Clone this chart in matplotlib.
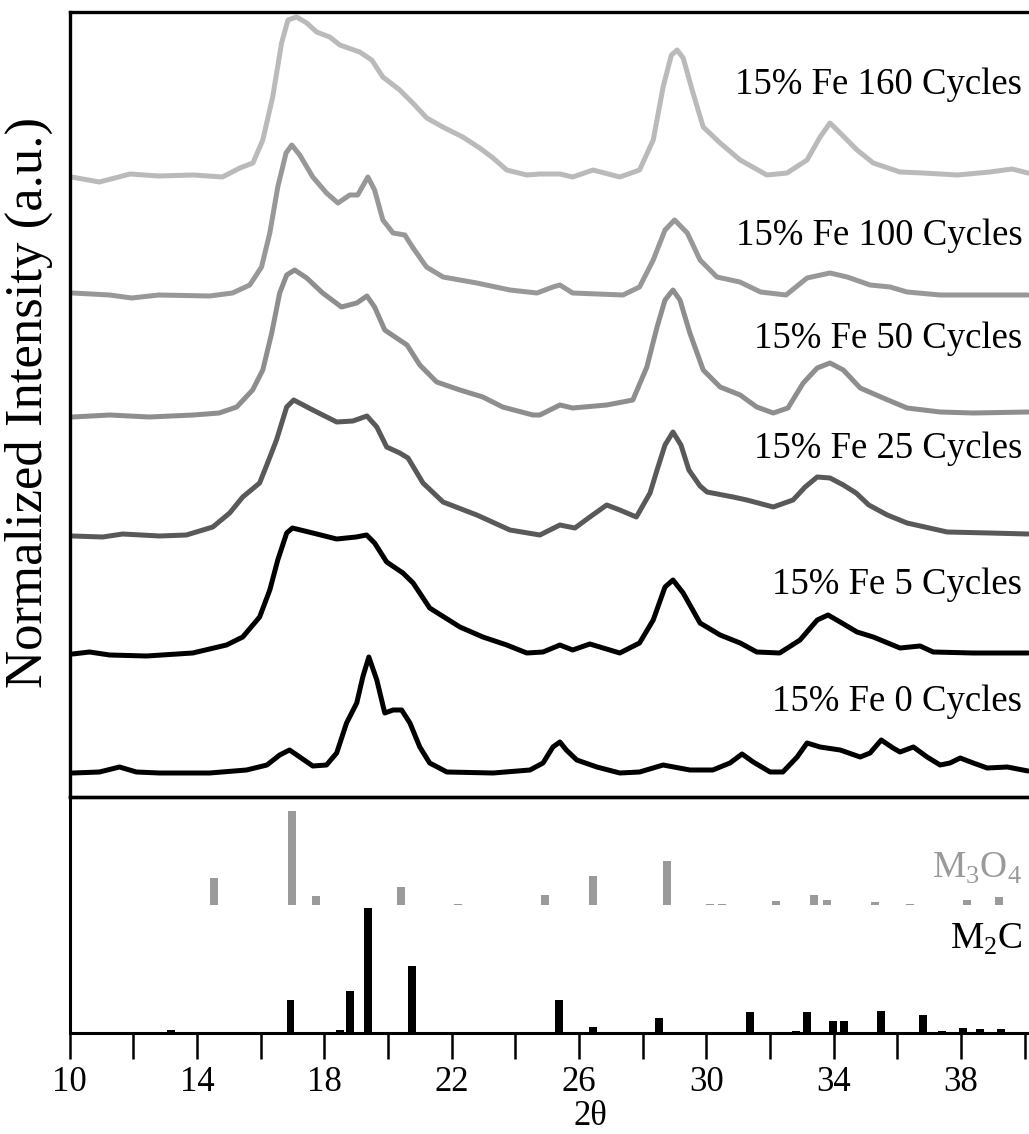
import matplotlib
matplotlib.use("Agg")
import matplotlib.pyplot as plt

plt.rcParams['font.family'] = ['Liberation Serif', 'DejaVu Serif']
plt.rcParams['mathtext.fontset'] = 'custom'
plt.rcParams['mathtext.rm'] = 'Liberation Serif'

# XRD patterns, 2-theta vs intensity above each trace's own baseline
x_160 = [10.06, 10.94, 11.9, 12.8, 13.9, 14.8, 15.35, 15.76, 16.07, 16.38, 16.66, 16.86, 17.13, 17.45,
         17.76, 18.17, 18.49, 19.11, 19.49, 19.84, 20.37, 20.78, 21.22, 21.72, 22.35, 22.88, 23.3,
         23.73, 24.36, 24.77, 25.4, 25.8, 26.44, 27.28, 27.9, 28.33, 28.64, 28.9, 29.08, 29.27, 29.58,
         29.9, 30.43, 31.06, 31.9, 32.53, 33.16, 33.57, 33.88, 34.2, 34.73, 35.24, 36.08, 36.8, 37.88,
         38.9, 39.6, 40.1]
i_160 = [0, -5, 3, 1, 2, 0, 9, 14, 37, 80, 134, 157, 160, 154,
         145, 140, 132, 125, 117, 100, 87, 74, 59, 50, 40, 29, 19,
         7, 2, 3, 3, 0, 7, 0, 7, 37, 90, 122, 127, 119, 84,
         50, 34, 17, 2, 4, 17, 40, 54, 44, 27, 14, 5, 4, 2,
         5, 8, 4]

x_100 = [10.1, 11.26, 11.95, 12.8, 14.4, 15.12, 15.66, 16.03, 16.29, 16.54, 16.8, 16.98, 17.23, 17.64,
         18.07, 18.43, 18.8, 19.05, 19.37, 19.58, 19.84, 20.16, 20.53, 20.79, 21.21, 21.73, 22.79,
         23.83, 24.68, 25.18, 25.4, 25.8, 27.38, 27.9, 28.33, 28.7, 29.0, 29.4, 29.8, 30.33, 31.05,
         31.7, 32.5, 33.16, 33.88, 34.42, 35.14, 35.77, 36.3, 37.34, 40.1]
i_100 = [2, 0, -3, 0, -1, 2, 10, 28, 62, 108, 142, 150, 140, 118,
         102, 92, 100, 100, 118, 105, 75, 62, 60, 47, 28, 18, 12,
         5, 2, 8, 10, 2, 0, 8, 35, 65, 75, 62, 35, 18, 13,
         3, 0, 17, 22, 18, 10, 8, 3, 0, 0]

x_50 = [10.1, 11.26, 12.5, 13.9, 14.7, 15.25, 15.75, 16.07, 16.35, 16.6, 16.82, 17.07, 17.45, 17.95,
        18.54, 19.02, 19.34, 19.58, 19.9, 20.27, 20.6, 21.0, 21.53, 22.26, 22.98, 23.6, 24.55, 24.77,
        25.4, 25.8, 26.87, 27.69, 28.13, 28.45, 28.7, 28.95, 29.17, 29.48, 29.9, 30.43, 31.06, 31.58,
        32.1, 32.56, 33.04, 33.48, 33.88, 34.3, 34.83, 35.55, 36.3, 37.34, 38.38, 40.1]
i_50 = [-2, 0, -2, 0, 2, 8, 25, 45, 82, 122, 140, 145, 137, 122,
        108, 112, 119, 108, 85, 77, 70, 50, 33, 25, 18, 8, 0, 0,
        10, 7, 10, 15, 48, 88, 115, 125, 115, 82, 45, 28, 20, 8,
        2, 7, 32, 47, 52, 45, 27, 17, 7, 3, 2, 3]

x_25 = [10.1, 11.04, 11.67, 12.83, 13.67, 14.5, 15.03, 15.44, 15.97, 16.22, 16.5, 16.82, 17.04, 17.64,
        18.39, 18.9, 19.34, 19.65, 19.96, 20.37, 20.63, 21.1, 21.73, 22.79, 23.83, 24.77, 25.4, 25.87,
        26.34, 26.87, 27.28, 27.8, 28.23, 28.45, 28.7, 28.95, 29.2, 29.45, 29.8, 30.02, 30.84, 31.27,
        32.1, 32.72, 33.1, 33.48, 33.88, 34.3, 34.7, 35.1, 35.68, 36.3, 37.56, 38.9, 40.1]
i_25 = [0, -1, 2, 0, 1, 9, 23, 39, 53, 73, 96, 129, 136, 126,
        114, 115, 120, 109, 89, 83, 78, 53, 34, 21, 6, 1, 11, 8,
        19, 31, 26, 19, 43, 66, 91, 104, 91, 66, 50, 44, 39, 36,
        29, 36, 49, 59, 58, 51, 43, 31, 21, 13, 4, 3, 2]

x_5 = [10.1, 10.63, 11.26, 12.42, 13.87, 14.93, 15.44, 15.97, 16.29, 16.54, 16.82, 17.0, 17.64, 18.39,
       19.0, 19.33, 19.58, 19.96, 20.47, 20.79, 21.31, 22.26, 22.98, 23.73, 24.36, 24.87, 25.4, 25.8,
       26.34, 27.28, 27.9, 28.33, 28.7, 28.95, 29.27, 29.8, 30.43, 31.06, 31.58, 32.3, 32.94, 33.48,
       33.82, 34.2, 34.73, 35.24, 36.08, 36.71, 37.12, 38.38, 40.1]
i_5 = [0, 2, -1, -2, 1, 9, 17, 37, 64, 94, 121, 126, 121, 115,
       117, 119, 111, 92, 81, 71, 46, 27, 17, 9, 1, 2, 9, 4,
       10, 1, 11, 34, 67, 74, 61, 31, 19, 11, 2, 1, 14, 34,
       39, 32, 22, 17, 6, 8, 2, 1, 1]

x_0 = [10.1, 10.94, 11.57, 12.1, 12.83, 14.4, 15.56, 16.2, 16.6, 16.91, 17.23, 17.64, 18.07, 18.39,
       18.7, 19.02, 19.21, 19.4, 19.65, 19.9, 20.16, 20.43, 20.69, 21.0, 21.31, 21.85, 23.3, 24.46,
       24.87, 25.18, 25.4, 25.6, 25.93, 26.56, 27.28, 27.9, 28.64, 29.48, 30.2, 30.74, 31.12, 31.47,
       32.0, 32.4, 32.85, 33.16, 33.57, 34.2, 34.83, 35.14, 35.49, 35.86, 36.08, 36.5, 36.93, 37.34,
       37.65, 37.97, 38.38, 38.82, 39.45, 40.1]
i_0 = [0, 1, 6, 1, 0, 0, 3, 8, 18, 23, 16, 7, 8, 20,
       50, 70, 96, 116, 93, 60, 63, 63, 50, 26, 10, 1, 0, 3,
       10, 26, 31, 23, 13, 6, 0, 1, 8, 3, 3, 10, 19, 11,
       1, 1, 16, 30, 26, 23, 16, 20, 33, 25, 21, 26, 16, 8,
       10, 15, 10, 5, 6, 2]

labels = ['15% Fe 160 Cycles', '15% Fe 100 Cycles', '15% Fe 50 Cycles',
          '15% Fe 25 Cycles', '15% Fe 5 Cycles', '15% Fe 0 Cycles']
offsets = [620, 502, 382, 261, 143, 24]
label_y = [703, 552, 449, 339, 203, 86]
colors = ['#bababa', '#989898', '#8e8e8e', '#595959', '#000000', '#000000']

# reference patterns (stick positions / relative intensities)
m3o4_pos = [14.53, 16.98, 17.73, 20.4, 22.2, 24.93, 26.44, 28.77, 30.1, 30.5, 32.2, 33.38, 33.79,
            35.3, 36.4, 38.19, 39.2]
m3o4_int = [27, 94, 9, 18, 1, 10, 29, 44, 1, 1, 4, 10, 5, 3, 1, 5, 8]
m2c_pos = [13.18, 16.94, 18.49, 18.8, 19.37, 20.75, 25.37, 26.45, 28.5, 29.4, 29.8, 30.05, 31.37,
           31.75, 32.8, 33.16, 33.7, 33.98, 34.33, 35.49, 36.8, 37.4, 38.06, 38.6, 39.26, 40.07]
m2c_int = [3, 33, 3, 42, 125, 67, 33, 6, 15, 1, 1, 1, 21, 1, 2, 21, 1, 12, 12, 22, 18, 2, 5, 4, 4, 1]

xs = [x_160, x_100, x_50, x_25, x_5, x_0]
ys = [i_160, i_100, i_50, i_25, i_5, i_0]

W, H = 1029, 1134
fig = plt.figure(figsize=(W / 100, H / 100), dpi=100)
left = 69.5 / W
width = 1 - left
ax = fig.add_axes([left, (H - 797) / H, width, 785 / H])
ax2 = fig.add_axes([left, (H - 1033) / H, width, 236 / H], sharex=ax)
ax2.patch.set_visible(False)

for x, y, off, c in zip(xs, ys, offsets, colors):
    ax.plot(x, [v + off for v in y], color=c, lw=3.6, solid_joinstyle='round', solid_capstyle='round')
for lab, ly in zip(labels, label_y):
    ax.text(39.92, ly, lab, ha='right', va='baseline', fontsize=26.5)

ax.set_xlim(10, 40.13)
ax.set_ylim(0, 785)
ax.set_yticks([])
ax.tick_params(axis='x', which='both', bottom=False, labelbottom=False)
ax.spines['right'].set_visible(False)
for s in ['top', 'left', 'bottom']:
    ax.spines[s].set_linewidth(2.4)

ax2.bar(m3o4_pos, m3o4_int, width=0.25, bottom=128, color='#9a9a9a')
ax2.bar(m2c_pos, m2c_int, width=0.25, bottom=0, color='black')
ax2.text(39.92, 155, r'M$_\mathrm{3}$O$_\mathrm{4}$', ha='right', va='baseline',
         fontsize=27, color='#9a9a9a')
ax2.text(39.92, 84, r'M$_\mathrm{2}$C', ha='right', va='baseline', fontsize=27)
ax2.set_ylim(0, 236)
ax2.set_yticks([])
ax2.spines['right'].set_visible(False)
ax2.spines['top'].set_linewidth(2.4)
for s in ['left', 'bottom']:
    ax2.spines[s].set_linewidth(2.2)

ticks = list(range(10, 41, 2))
ax2.set_xticks(ticks)
ax2.set_xticklabels([str(t) if (t - 10) % 4 == 0 else '' for t in ticks])
ax2.tick_params(axis='x', direction='out', length=19, width=1.8, pad=5, labelsize=25)
ax2.set_xlabel('2\u03b8', fontsize=25, va='baseline')
ax2.xaxis.set_label_coords((590 - 69.5) / (W - 69.5), -(1125 - 1033) / 236)

fig.text(29 / W, (H - 402) / H, 'Normalized Intensity (a.u.)', rotation=90,
         ha='center', va='center', fontsize=38)

fig.savefig('out.png', dpi=100)
